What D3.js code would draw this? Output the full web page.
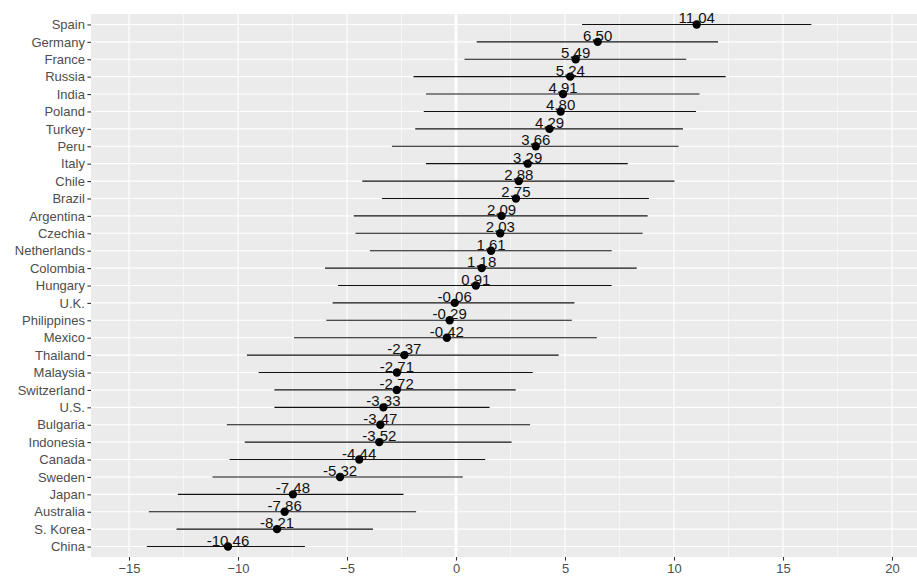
<!DOCTYPE html>
<html>
<head>
<meta charset="utf-8">
<script src="https://cdn.jsdelivr.net/npm/d3@7"></script>
<style>
  body { margin: 0; background: #fff; }
  text { font-family: "Liberation Sans", Arial, sans-serif; }
</style>
</head>
<body>
<div id="svg"></div>
<script>
// countries top to bottom, with point estimate and interval ends
var countries = ["Spain","Germany","France","Russia","India","Poland","Turkey","Peru","Italy","Chile",
  "Brazil","Argentina","Czechia","Netherlands","Colombia","Hungary","U.K.","Philippines","Mexico","Thailand",
  "Malaysia","Switzerland","U.S.","Bulgaria","Indonesia","Canada","Sweden","Japan","Australia","S. Korea","China"];
var estimates = [11.04,6.50,5.49,5.24,4.91,4.80,4.29,3.66,3.29,2.88,
  2.75,2.09,2.03,1.61,1.18,0.91,-0.06,-0.29,-0.42,-2.37,
  -2.71,-2.72,-3.33,-3.47,-3.52,-4.44,-5.32,-7.48,-7.86,-8.21,-10.46];
var lower = [5.78,0.95,0.39,-1.95,-1.38,-1.48,-1.87,-2.94,-1.38,-4.30,
  -3.40,-4.69,-4.61,-3.95,-6.01,-5.41,-5.66,-5.95,-7.43,-9.59,
  -9.05,-8.33,-8.33,-10.51,-9.69,-10.39,-11.17,-12.76,-14.09,-12.82,-14.18];
var upper = [16.30,12.02,10.56,12.37,11.17,11.01,10.41,10.21,7.88,10.02,
  8.85,8.79,8.56,7.14,8.29,7.14,5.43,5.31,6.46,4.71,
  3.52,2.74,1.54,3.40,2.55,1.34,0.31,-2.41,-1.83,-3.81,-6.93];
var xTicks = [-15,-10,-5,0,5,10,15,20];
var xMinor = [-12.5,-7.5,-2.5,2.5,7.5,12.5,17.5];

var width = 917;
var height = 580;
var panel = {left: 91, right: 917, top: 14, bottom: 557};

var x = d3.scaleLinear().domain([-15,20]).range([129,892]);
var y = d3.scalePoint().domain(countries).range([panel.top,panel.bottom]).padding(0.6);

var svg = d3.select("#svg").append("svg")
  .attr("width",width)
  .attr("height",height);

svg.append("rect")
  .attr("x",panel.left)
  .attr("y",panel.top)
  .attr("width",panel.right - panel.left)
  .attr("height",panel.bottom - panel.top)
  .attr("fill","#EBEBEB");

// grid
svg.selectAll(".minor")
  .data(xMinor)
  .enter().append("line")
  .attr("x1",function(d) { return x(d); })
  .attr("x2",function(d) { return x(d); })
  .attr("y1",panel.top)
  .attr("y2",panel.bottom)
  .attr("stroke","#fff")
  .attr("stroke-width",0.55);

svg.selectAll(".major")
  .data(xTicks)
  .enter().append("line")
  .attr("x1",function(d) { return x(d); })
  .attr("x2",function(d) { return x(d); })
  .attr("y1",panel.top)
  .attr("y2",panel.bottom)
  .attr("stroke","#fff")
  .attr("stroke-width",1.1);

svg.selectAll(".hgrid")
  .data(countries)
  .enter().append("line")
  .attr("x1",panel.left)
  .attr("x2",panel.right)
  .attr("y1",function(d) { return y(d); })
  .attr("y2",function(d) { return y(d); })
  .attr("stroke","#fff")
  .attr("stroke-width",1.1);

// zero reference line
svg.append("line")
  .attr("x1",x(0))
  .attr("x2",x(0))
  .attr("y1",panel.top)
  .attr("y2",panel.bottom)
  .attr("stroke","#fff")
  .attr("stroke-width",2.5);

// axes
var yAxis = svg.append("g")
  .attr("transform","translate(" + panel.left + ",0)")
  .call(d3.axisLeft(y).tickSize(3.6).tickPadding(2.5));
var xAxis = svg.append("g")
  .attr("transform","translate(0," + panel.bottom + ")")
  .call(d3.axisBottom(x).tickValues(xTicks).tickSize(3.6).tickPadding(3));

[yAxis,xAxis].forEach(function(g) {
  g.select(".domain").remove();
  g.selectAll("line").attr("stroke","#333").attr("stroke-width",1.1);
  g.selectAll("text")
    .attr("fill","#4D4D4D")
    .style("font-size","13px")
    .style("font-family","'Liberation Sans', Arial, sans-serif");
});

// intervals, points and labels
var rows = countries.map(function(c,i) {
  return {country: c, est: estimates[i], lo: lower[i], hi: upper[i]};
});

svg.selectAll(".ci")
  .data(rows)
  .enter().append("line")
  .attr("x1",function(d) { return x(d.lo); })
  .attr("x2",function(d) { return x(d.hi); })
  .attr("y1",function(d) { return y(d.country); })
  .attr("y2",function(d) { return y(d.country); })
  .attr("stroke","#111")
  .attr("stroke-width",1.1);

svg.selectAll(".pt")
  .data(rows)
  .enter().append("circle")
  .attr("cx",function(d) { return x(d.est); })
  .attr("cy",function(d) { return y(d.country); })
  .attr("r",4.2)
  .attr("fill","#000");

svg.selectAll(".lbl")
  .data(rows)
  .enter().append("text")
  .attr("x",function(d) { return x(d.est); })
  .attr("y",function(d) { return y(d.country) - 1; })
  .attr("text-anchor","middle")
  .attr("fill","#111")
  .style("font-size","15px")
  .text(function(d) { return d.est.toFixed(2); });
</script>
</body>
</html>
